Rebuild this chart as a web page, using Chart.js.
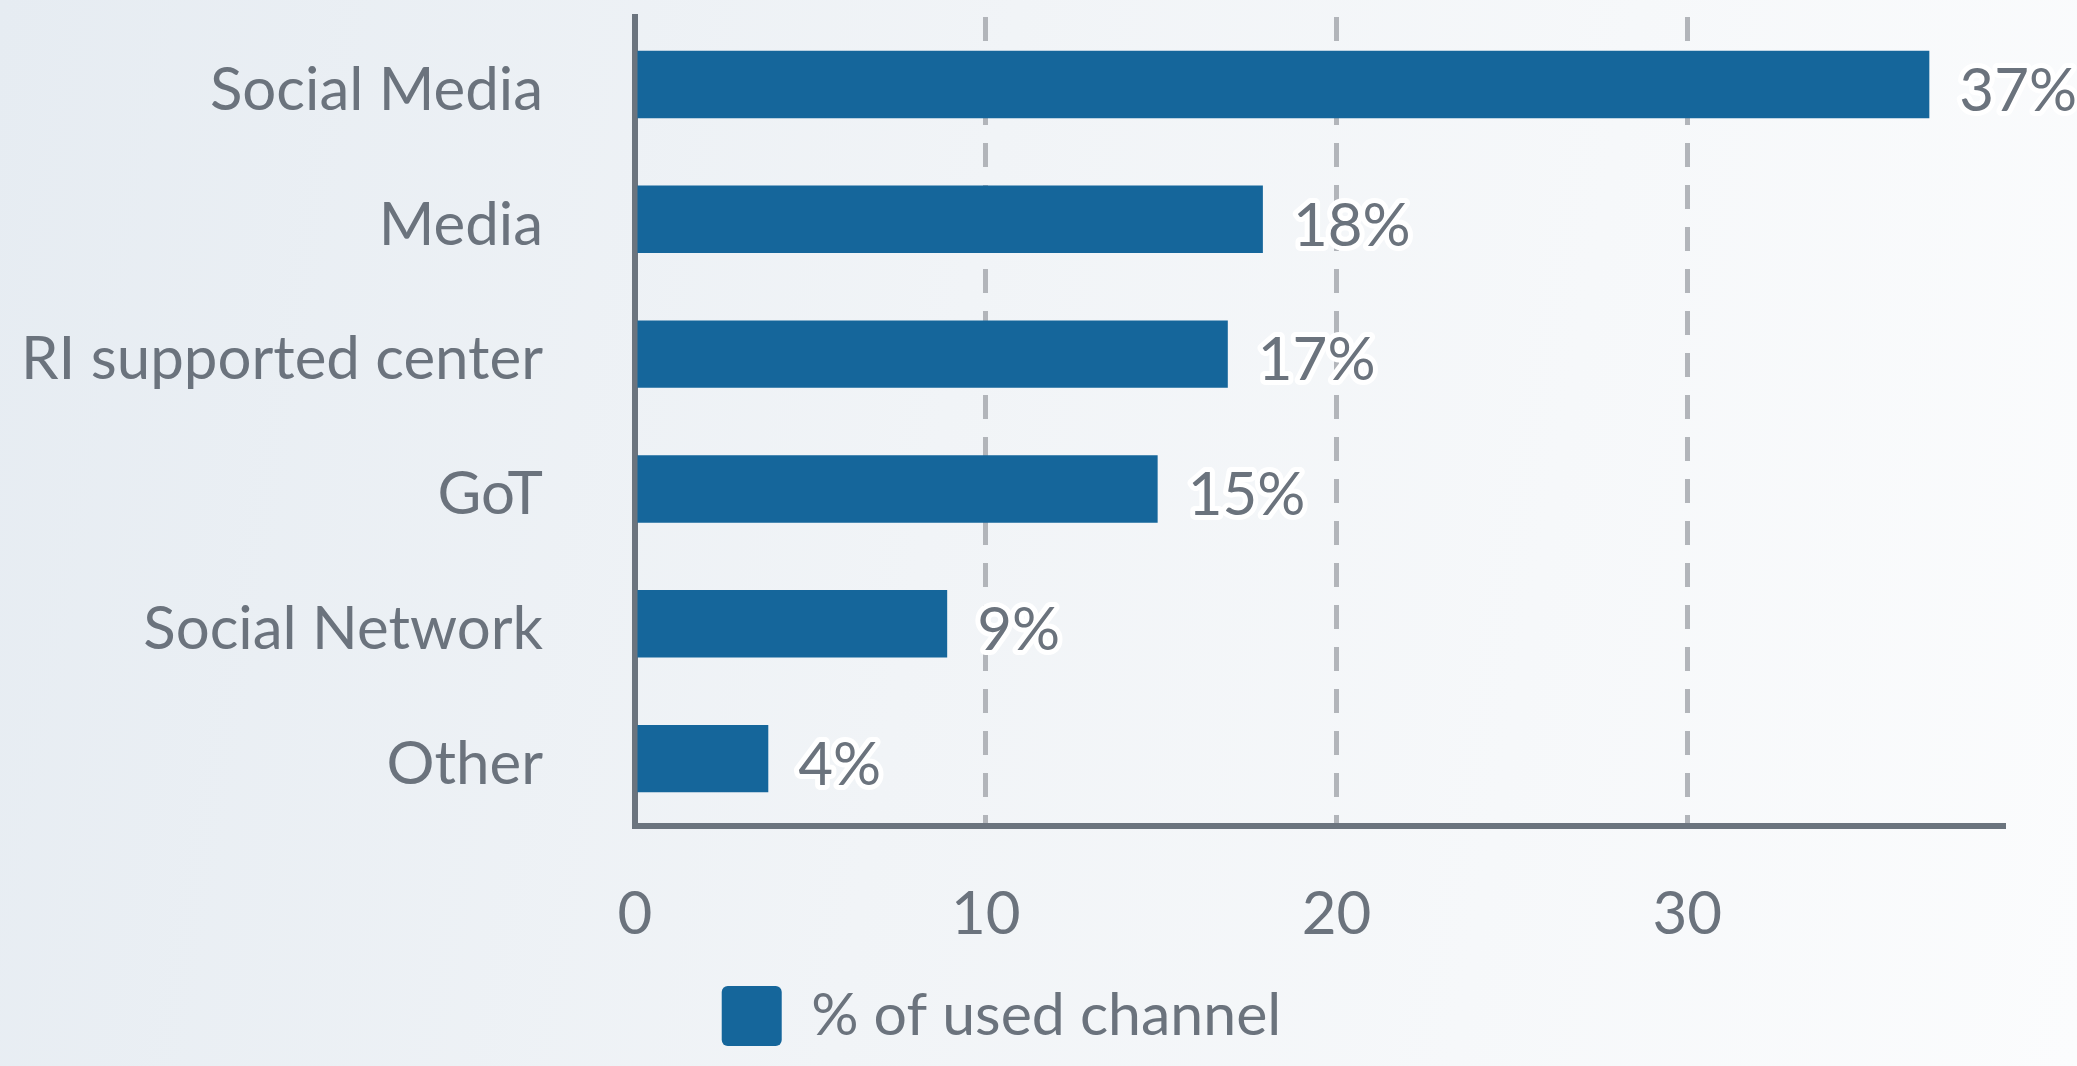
<!DOCTYPE html>
<html>
<head>
<meta charset="utf-8">
<script src="https://cdn.jsdelivr.net/npm/chart.js@4"></script>
<style>
    html, body {
        margin: 0;
        padding: 0;
        width: 2077px;
        height: 1066px;
        overflow: hidden;
        background: linear-gradient(100deg, #e6ecf2 0%, #f1f4f7 45%, #fbfcfd 100%);
    }
    #chartBox {
        position: relative;
        width: 2077px;
        height: 1066px;
    }
</style>
</head>
<body>
<div id="chartBox"><canvas id="channelChart"></canvas></div>
<script>
// Chart data
const channelLabels = ['Social Media', 'Media', 'RI supported center', 'GoT', 'Social Network', 'Other'];
const channelShare = [36.9, 17.9, 16.9, 14.9, 8.9, 3.8];
const seriesName = '% of used channel';
const axisMax = 39;
const tickStep = 10;

const textGray = '#6b737d';
const axisGray = '#6b747e';
const gridGray = '#b2b5ba';
const barBlue = '#15669b';
const fontFamily = 'Lato, "Open Sans", sans-serif';

// Draws "NN%" next to each bar with a white halo
const valueLabelPlugin = {
    id: 'valueLabels',
    afterDatasetsDraw(chart) {
        const ctx = chart.ctx;
        const meta = chart.getDatasetMeta(0);
        ctx.save();
        ctx.font = '60px ' + fontFamily;
        ctx.textAlign = 'left';
        ctx.textBaseline = 'middle';
        ctx.lineJoin = 'round';
        meta.data.forEach((bar, i) => {
            const text = Math.round(chart.data.datasets[0].data[i]) + '%';
            const x = bar.x + 30;
            const y = bar.y + 7;
            ctx.lineWidth = 10;
            ctx.strokeStyle = '#ffffff';
            ctx.strokeText(text, x, y);
            ctx.fillStyle = textGray;
            ctx.fillText(text, x, y);
        });
        ctx.restore();
    }
};

document.addEventListener('DOMContentLoaded', function() {
    initializeChart();
});

function initializeChart() {
    const ctx = document.getElementById('channelChart');

    new Chart(ctx, {
        type: 'bar',
        data: {
            labels: channelLabels,
            datasets: [{
                label: seriesName,
                data: channelShare,
                backgroundColor: barBlue,
                borderWidth: 0,
                barPercentage: 0.5,
                categoryPercentage: 1
            }]
        },
        options: {
            indexAxis: 'y',
            responsive: true,
            maintainAspectRatio: false,
            animation: false,
            layout: {
                padding: { top: 17, right: 74, bottom: 10, left: 0 }
            },
            scales: {
                x: {
                    min: 0,
                    max: axisMax,
                    afterBuildTicks: (axis) => {
                        axis.ticks = axis.ticks.filter(t => t.value % tickStep === 0);
                    },
                    afterFit: (scale) => {
                        scale.height = 150;
                        scale.paddingLeft = 0;
                        scale.paddingRight = 0;
                    },
                    ticks: {
                        stepSize: tickStep,
                        color: textGray,
                        padding: 53,
                        font: { family: fontFamily, size: 60 }
                    },
                    grid: {
                        drawTicks: false,
                        lineWidth: 5,
                        color: (c) => (c.tick && c.tick.value === 0) ? 'rgba(0,0,0,0)' : gridGray
                    },
                    border: {
                        display: true,
                        color: axisGray,
                        width: 6,
                        dash: [24, 18]
                    }
                },
                y: {
                    afterFit: (scale) => {
                        scale.width = 635;
                        scale.paddingTop = 0;
                        scale.paddingBottom = 0;
                    },
                    ticks: {
                        color: textGray,
                        padding: 92,
                        labelOffset: 6,
                        font: { family: fontFamily, size: 60 }
                    },
                    grid: {
                        display: false,
                        drawTicks: false
                    },
                    border: {
                        display: true,
                        color: axisGray,
                        width: 6
                    }
                }
            },
            plugins: {
                legend: {
                    position: 'bottom',
                    labels: {
                        color: textGray,
                        font: { family: fontFamily, size: 59 },
                        boxWidth: 60,
                        boxHeight: 60,
                        useBorderRadius: true,
                        borderRadius: 6,
                        padding: 10
                    }
                },
                tooltip: { enabled: false }
            }
        },
        plugins: [valueLabelPlugin]
    });
}
</script>
</body>
</html>
